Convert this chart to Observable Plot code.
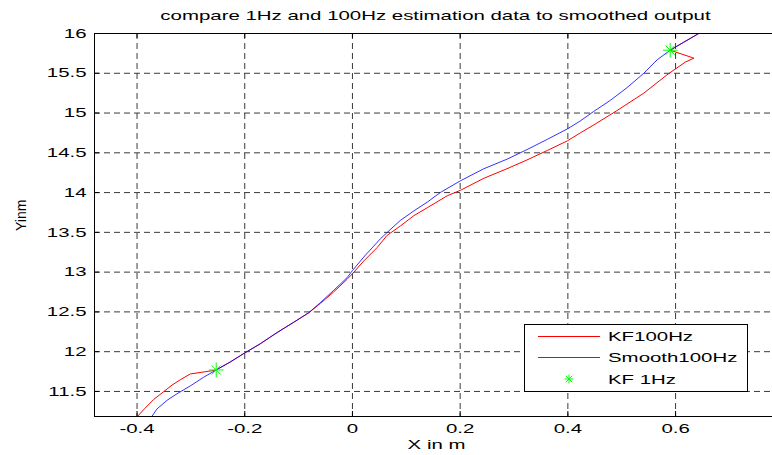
<!DOCTYPE html>
<html>
<head>
<meta charset="utf-8">
<script src="https://cdn.jsdelivr.net/npm/d3@7"></script>
<script src="https://cdn.jsdelivr.net/npm/@observablehq/plot@0.6"></script>
<style>
  body { margin: 0; background: #fff; }
  #chart { position: relative; width: 772px; height: 455px; }
  svg { display: block; }
</style>
</head>
<body>
<div id="chart"></div>
<script>
// ---- data ----
const kfX = [-0.405, -0.400, -0.385, -0.369, -0.350, -0.335, -0.319, -0.301, -0.261, -0.253,
  -0.227, -0.201, -0.171, -0.140, -0.109, -0.081, -0.059, -0.035, -0.010, 0.000,
  0.021, 0.046, 0.064, 0.089, 0.114, 0.139, 0.176, 0.201, 0.244, 0.287,
  0.324, 0.362, 0.399, 0.423, 0.448, 0.491, 0.541, 0.584, 0.618, 0.634,
  0.590, 0.615, 0.643, 0.660];
const kfY = [11.13, 11.18, 11.29, 11.40, 11.50, 11.58, 11.65, 11.72, 11.76, 11.77,
  11.87, 11.98, 12.10, 12.24, 12.37, 12.49, 12.61, 12.75, 12.91, 12.98,
  13.14, 13.31, 13.46, 13.58, 13.71, 13.81, 13.96, 14.03, 14.18, 14.30,
  14.41, 14.53, 14.65, 14.75, 14.85, 15.03, 15.25, 15.48, 15.64, 15.69,
  15.79, 15.89, 16.00, 16.07];

const smX = [-0.380, -0.373, -0.363, -0.344, -0.326, -0.301, -0.276, -0.253, -0.227, -0.201,
  -0.171, -0.140, -0.109, -0.081, -0.059, -0.035, -0.010, 0.000, 0.021, 0.052,
  0.071, 0.089, 0.114, 0.139, 0.163, 0.201, 0.244, 0.287, 0.324, 0.362,
  0.399, 0.423, 0.448, 0.479, 0.510, 0.541, 0.566, 0.590, 0.615, 0.643, 0.660];
const smY = [11.10, 11.18, 11.28, 11.39, 11.47, 11.57, 11.68, 11.77, 11.87, 11.98,
  12.10, 12.24, 12.37, 12.49, 12.62, 12.77, 12.93, 13.02, 13.19, 13.42,
  13.54, 13.65, 13.77, 13.88, 14.00, 14.15, 14.30, 14.42, 14.54, 14.67,
  14.80, 14.90, 15.02, 15.16, 15.32, 15.50, 15.67, 15.79, 15.89, 16.00, 16.07];

const starX = [-0.253, 0.590];
const starY = [11.77, 15.79];

const xTicks = [-0.4, -0.2, 0, 0.2, 0.4, 0.6];
const xTickLabels = ["-0.4", "-0.2", "0", "0.2", "0.4", "0.6"];
const yTicks = [11.5, 12, 12.5, 13, 13.5, 14, 14.5, 15, 15.5, 16];
const yTickLabels = ["11.5", "12", "12.5", "13", "13.5", "14", "14.5", "15", "15.5", "16"];
const xDomain = [-0.479, 0.780];
const yDomain = [11.185, 16];

const title = "compare 1Hz and 100Hz estimation data to smoothed output";
const xLabel = "X in m";
const yLabel = "Yinm";
const legendLabels = ["KF100Hz", "Smooth100Hz", "KF 1Hz"];
const seriesColors = ["#ff0000", "#0000ff", "#00ff00"];

// ---- build tables ----
const kf = kfX.map((x, i) => ({x, y: kfY[i]}));
const sm = smX.map((x, i) => ({x, y: smY[i]}));
const stars = starX.map((x, i) => ({x, y: starY[i]}));

const W = 772, H = 455, mL = 94, mR = 0, mT = 33, mB = 39;
const plotW = W - mL - mR, plotH = H - mT - mB;
const gridColor = "#3a3a3a";
const FS = 13;

const chart = Plot.plot({
  width: W,
  height: H,
  marginLeft: mL,
  marginRight: mR,
  marginTop: mT,
  marginBottom: mB,
  style: {fontFamily: "'Liberation Sans', Arial, sans-serif", fontSize: FS + "px", color: "black", background: "white", overflow: "visible"},
  x: {domain: xDomain, label: null},
  y: {domain: yDomain, label: null},
  marks: [
    // dashed grid
    Plot.ruleX(xTicks, {x: d => d, stroke: gridColor, strokeWidth: 1, strokeDasharray: "6,4"}),
    Plot.ruleY(yTicks, {y: d => d, stroke: gridColor, strokeWidth: 1, strokeDasharray: "6,4"}),
    // inward ticks
    Plot.tickX(xTicks, {x: d => d, insetTop: plotH - 5, stroke: "black"}),
    Plot.tickX(xTicks, {x: d => d, insetBottom: plotH - 5, stroke: "black"}),
    Plot.tickY(yTicks, {y: d => d, insetRight: plotW - 5, stroke: "black"}),
    // axes labels
    Plot.axisX({ticks: xTicks, tickFormat: d => xTickLabels[xTicks.indexOf(d)], tickSize: 0, tickPadding: 7, label: null, fontSize: FS}),
    Plot.axisY({ticks: yTicks, tickFormat: d => yTickLabels[yTicks.indexOf(d)], tickSize: 0, tickPadding: 8, label: null, fontSize: FS}),
    // data
    Plot.line(kf, {x: "x", y: "y", stroke: seriesColors[0], strokeWidth: 1, clip: true}),
    Plot.line(sm, {x: "x", y: "y", stroke: seriesColors[1], strokeWidth: 1, strokeOpacity: 0.8, clip: true}),
    Plot.dot(stars, {x: "x", y: "y", symbol: "plus", r: 4.8, stroke: seriesColors[2], strokeWidth: 1}),
    Plot.dot(stars, {x: "x", y: "y", symbol: "times", r: 4.2, stroke: seriesColors[2], strokeWidth: 1}),
    // axes frame (left, top, bottom)
    Plot.ruleX([xDomain[0]], {stroke: "black", strokeWidth: 1}),
    Plot.ruleY([yDomain[0], yDomain[1]], {stroke: "black", strokeWidth: 1}),
    // title and axis titles
    Plot.text([title], {text: d => d, frameAnchor: "top", dx: 2, dy: -14, lineAnchor: "bottom", fontSize: FS, fill: "black"}),
    Plot.text([xLabel], {text: d => d, frameAnchor: "bottom", dx: 3, dy: 32, lineAnchor: "bottom", fontSize: FS, fill: "black"}),
    Plot.text([yLabel], {text: d => d, frameAnchor: "left", rotate: -90, dx: -69, dy: 6, lineAnchor: "bottom", fontSize: 14, fill: "black"})
  ]
});

document.getElementById("chart").appendChild(chart);

// ---- legend (drawn into the SVG) ----
const svg = d3.select(chart);
const lg = svg.append("g")
  .attr("font-family", "'Liberation Sans', Arial, sans-serif")
  .attr("font-size", FS)
  .attr("text-anchor", "start");
const box = {x: 524, y: 324, w: 223, h: 67};
lg.append("rect").attr("x", box.x + 0.5).attr("y", box.y + 0.5).attr("width", box.w).attr("height", box.h)
  .attr("fill", "white").attr("stroke", "black").attr("stroke-width", 1);
const rows = [12.5, 33.5, 55];
legendLabels.forEach((lab, i) => {
  const cy = box.y + rows[i];
  if (i < 2) {
    lg.append("line").attr("x1", box.x + 14).attr("x2", box.x + 76).attr("y1", cy).attr("y2", cy)
      .attr("stroke", seriesColors[i]).attr("stroke-width", 1).attr("stroke-opacity", i === 1 ? 0.8 : 1);
  } else {
    const cx = box.x + 45, a = 4.5, b = a / Math.SQRT2;
    lg.append("path").attr("d", `M${cx - a},${cy}H${cx + a}M${cx},${cy - a}V${cy + a}M${cx - b},${cy - b}L${cx + b},${cy + b}M${cx - b},${cy + b}L${cx + b},${cy - b}`)
      .attr("stroke", seriesColors[2]).attr("fill", "none").attr("stroke-width", 1);
  }
  lg.append("text").attr("x", box.x + 84).attr("y", cy + 4.7).attr("fill", "black").text(lab);
});

// ---- horizontally stretched lettering, as in the reference ----
const stretch = 1.57;
chart.querySelectorAll("text").forEach(t => {
  if (t.textContent === yLabel) return;
  const len = t.getComputedTextLength();
  if (len > 0) {
    t.setAttribute("textLength", (len * stretch).toFixed(1));
    t.setAttribute("lengthAdjust", "spacingAndGlyphs");
  }
});
</script>
</body>
</html>
